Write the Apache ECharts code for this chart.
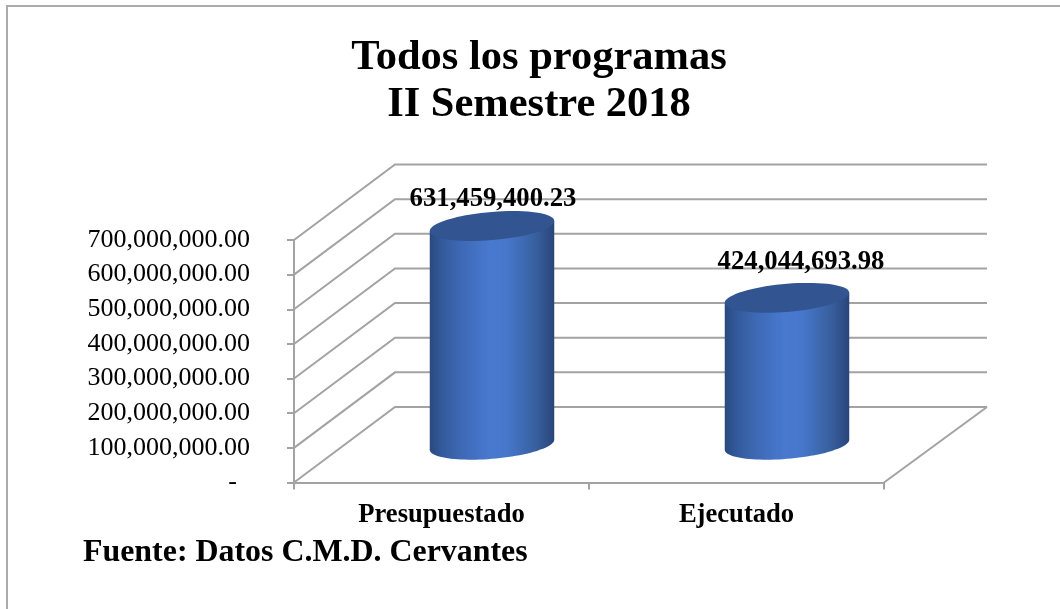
<!DOCTYPE html>
<html>
<head>
<meta charset="utf-8">
<style>html,body{margin:0;padding:0;background:#fff}#c{width:1060px;height:609px}</style>
<script src="https://cdn.jsdelivr.net/npm/echarts@6/dist/echarts.min.js"></script>
</head>
<body>
<div id="c"></div>
<script>
const categories = ['Presupuestado', 'Ejecutado'];
const values = [631459400.23, 424044693.98];
const valueLabels = ['631,459,400.23', '424,044,693.98'];
const ticks = [0, 100000000, 200000000, 300000000, 400000000, 500000000, 600000000, 700000000];
const titleLines = ['Todos los programas', 'II Semestre 2018'];
const sourceNote = 'Fuente: Datos C.M.D. Cervantes';

const SERIF = '"Liberation Serif", "Times New Roman", serif';
const DEPTH = [101, -75.5];
const BACK_EXTRA = 2;
const GRID_COLOR = '#a3a3a3';
const LABEL_SHIFT = [[1, -27], [14, -36]];

function fmtTick(v) {
  if (v === 0) return '-\u00a0\u00a0';
  return v.toLocaleString('en-US', {minimumFractionDigits: 2, maximumFractionDigits: 2});
}

function ellipse(cx, cy, a, b, s, from, to, n) {
  const pts = [];
  for (let i = 0; i <= n; i++) {
    const t = from + (to - from) * i / n;
    pts.push([cx + a * Math.cos(t), cy + b * Math.sin(t) - s * Math.cos(t)]);
  }
  return pts;
}

function renderWall(params, api) {
  const p = api.coord([0, api.value(1)]);
  const cs = params.coordSys;
  const y = p[1], x0 = cs.x, x1 = cs.x + cs.width;
  const xb = x1 + DEPTH[0] + BACK_EXTRA;
  const style = {stroke: GRID_COLOR, lineWidth: 2, fill: null};
  const children = [{
    type: 'polyline',
    shape: {points: [[x0, y], [x0 + DEPTH[0], y + DEPTH[1]], [xb, y + DEPTH[1]]]},
    style
  }];
  if (api.value(1) === 0) {
    children.push({
      type: 'line',
      shape: {x1: x1, y1: y, x2: xb, y2: y + DEPTH[1]},
      style
    });
  }
  return {type: 'group', children};
}

function renderCylinder(params, api) {
  const i = api.value(0);
  const base = api.coord([i, 0]);
  const top = api.coord([i, api.value(1)]);
  const band = api.size([1, 0])[0];
  const a = band * 0.211, b = 14.1, s = 5;
  const cx = base[0] + DEPTH[0] / 2;
  const by = base[1] + DEPTH[1] / 2;
  const ty = top[1] + DEPTH[1] / 2;
  const bodyPts = ellipse(cx, by, a, b, s, 0, Math.PI, 48);
  bodyPts.unshift([cx + a, ty - s]);
  bodyPts.push([cx - a, ty + s]);
  const grad = {
    type: 'linear', x: 0, y: 0, x2: 1, y2: 0,
    colorStops: [
      {offset: 0, color: '#2a4a7e'},
      {offset: 0.1, color: '#335a9c'},
      {offset: 0.22, color: '#3c66b0'},
      {offset: 0.48, color: '#4879d0'},
      {offset: 0.62, color: '#4677cb'},
      {offset: 0.85, color: '#38609f'},
      {offset: 1, color: '#29457a'}
    ]
  };
  return {
    type: 'group',
    children: [
      {type: 'polygon', shape: {points: bodyPts}, style: {fill: grad}},
      {type: 'polygon', shape: {points: ellipse(cx, ty, a, b, s, 0, Math.PI * 2, 72)}, style: {fill: '#325592'}},
      {
        type: 'text',
        style: {
          x: cx + LABEL_SHIFT[i][0], y: ty + LABEL_SHIFT[i][1],
          text: valueLabels[i], align: 'center', verticalAlign: 'middle',
          font: 'bold 26.7px ' + SERIF, fill: '#000'
        }
      }
    ]
  };
}

const chart = echarts.init(document.getElementById('c'), null, {renderer: 'canvas'});
chart.setOption({
  animation: false,
  backgroundColor: '#fff',
  title: [
    {
      text: titleLines.join('\n'), left: 534, top: 30, textAlign: 'center',
      textStyle: {fontFamily: SERIF, fontWeight: 'bold', fontSize: 42.5, lineHeight: 47, color: '#000'}
    },
    {
      text: sourceNote, left: 78, top: 532,
      textStyle: {fontFamily: SERIF, fontWeight: 'bold', fontSize: 31.9, color: '#000'}
    }
  ],
  graphic: [{
    type: 'polyline',
    shape: {points: [[7, 609], [7, 6], [1060, 6]]},
    style: {stroke: '#ababab', lineWidth: 2, fill: null},
    silent: true
  }],
  grid: {left: 294, top: 240, width: 590, height: 242.5, containLabel: false},
  xAxis: {
    type: 'category', data: categories,
    axisLine: {lineStyle: {color: GRID_COLOR, width: 2}},
    axisTick: {show: true, length: 7, lineStyle: {color: GRID_COLOR, width: 2}},
    axisLabel: {
      fontFamily: SERIF, fontWeight: 'bold', fontSize: 26.6, color: '#000', margin: 19,
      interval: 0
    },
    splitLine: {show: false}
  },
  yAxis: {
    type: 'value', min: 0, max: 700000000, interval: 100000000,
    axisLine: {show: true, lineStyle: {color: GRID_COLOR, width: 2}},
    axisTick: {show: true, length: 7, lineStyle: {color: GRID_COLOR, width: 2}},
    axisLabel: {fontFamily: SERIF, fontSize: 26, color: '#000', margin: 44, formatter: fmtTick},
    splitLine: {show: false}
  },
  series: [
    {
      type: 'custom', coordinateSystem: 'cartesian2d', silent: true, clip: false, z: 1,
      data: ticks.map(t => [0, t]), encode: {x: 0, y: 1}, renderItem: renderWall
    },
    {
      type: 'custom', coordinateSystem: 'cartesian2d', silent: true, clip: false, z: 3,
      data: values.map((v, i) => [i, v]), encode: {x: 0, y: 1}, renderItem: renderCylinder
    }
  ]
});
</script>
</body>
</html>
